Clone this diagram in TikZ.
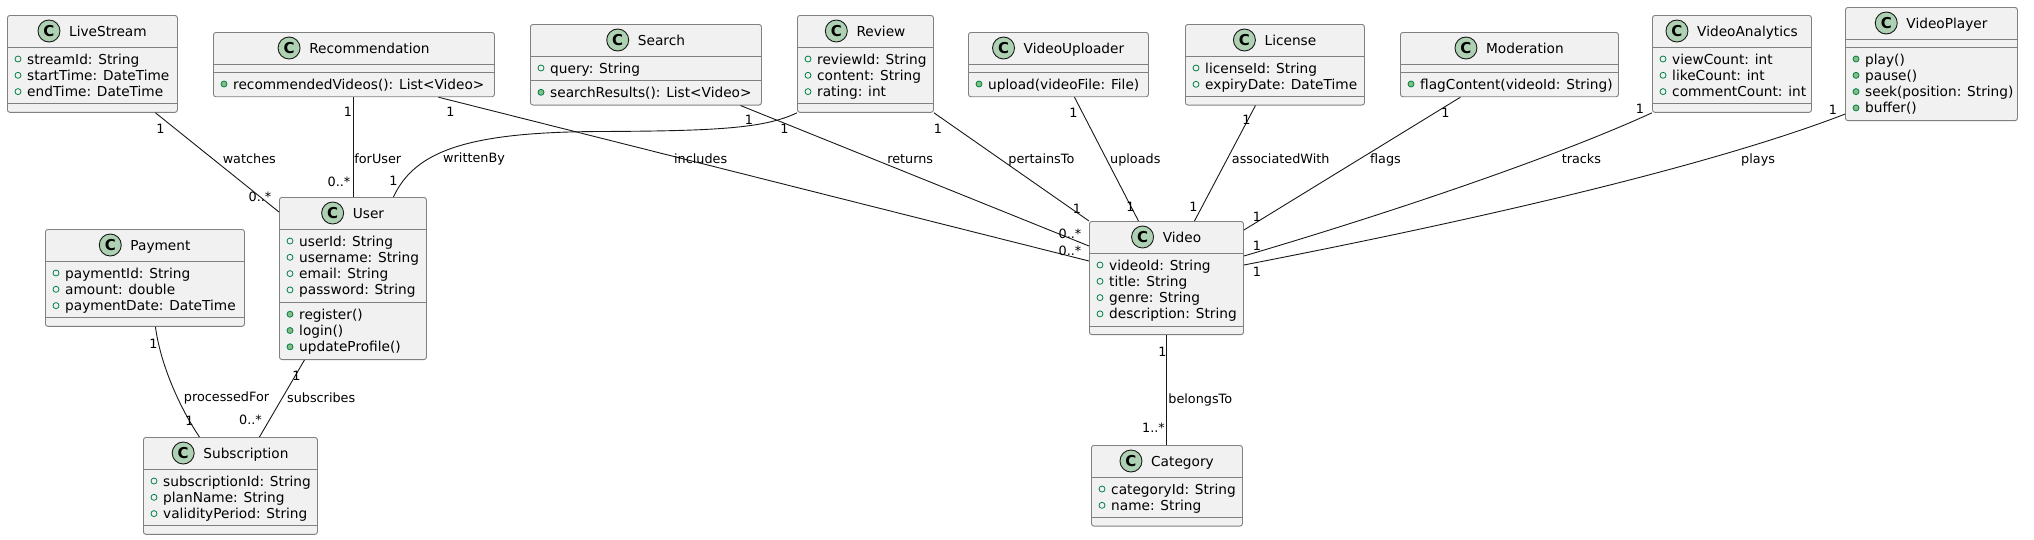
\documentclass[tikz,border=0pt]{standalone}
\usepackage{fontspec}
\setmainfont{DejaVu Sans}
\usepackage{xcolor}
\usepackage{tikz}
\usetikzlibrary{calc}

\definecolor{boxfill}{HTML}{F1F1F1}
\definecolor{boxline}{HTML}{181818}
\definecolor{iconfill}{HTML}{ADD1B2}
\definecolor{visline}{HTML}{038048}
\definecolor{visfill}{HTML}{84BE84}

% lớp UML: tên, x, y (góc trên trái), rộng, số thuộc tính, thuộc tính, số phương thức, phương thức
\newcommand{\umlclass}[8]{%
    \pgfmathsetmacro\hA{16.3*#5+8}%
    \pgfmathsetmacro\hM{16.3*#7+8}%
    \pgfmathsetmacro\hT{32+\hA+\hM}%
    \node[classbox, minimum width=#4, minimum height=\hT, anchor=north west] (#1) at (#2,#3) {};
    \draw[classline] ([yshift=-32]#1.north west) -- ([yshift=-32]#1.north east);
    \draw[classline] ([yshift=-32-\hA]#1.north west) -- ([yshift=-32-\hA]#1.north east);
    \node[classname, anchor=base] (#1-t) at ([xshift=15.5, yshift=-21]#1.north) {#1};
    \node[classicon] (#1-c) at ([xshift=-20, yshift=5]#1-t.base west) {C};
    \ifnum#5>0
    \foreach \m [count=\i] in {#6} {
        \pgfmathsetmacro\yy{44+16.3*(\i-1)}
        \draw[attrdot] ([xshift=11, yshift=-\yy]#1.north west) circle (3pt);
        \node[member] (#1-a\i) at ([xshift=20, yshift=-\yy-5]#1.north west) {\m};
    }
    \fi
    \ifnum#7>0
    \foreach \m [count=\i] in {#8} {
        \pgfmathsetmacro\yy{44+\hA+16.3*(\i-1)}
        \draw[opdot] ([xshift=11, yshift=-\yy]#1.north west) circle (3pt);
        \node[member] (#1-m\i) at ([xshift=20, yshift=-\yy-5]#1.north west) {\m};
    }
    \fi
}

\begin{document}
\begin{tikzpicture}[x=1pt, y=-1pt,
    classbox/.style={draw=black!50, line width=0.9pt, fill=boxfill, rounded corners=2.5pt, inner sep=0pt},
    classline/.style={draw=black!50, line width=0.9pt},
    classname/.style={font=\fontsize{13.7}{16}\selectfont, inner sep=0pt},
    classicon/.style={circle, draw=boxline, fill=iconfill, line width=0.9pt, minimum size=22pt, inner sep=0pt, font=\fontsize{15}{15}\selectfont\bfseries},
    member/.style={font=\fontsize{13.7}{16}\selectfont, inner sep=0pt, anchor=base west},
    attrdot/.style={draw=visline, line width=0.8pt},
    opdot/.style={draw=visline, fill=visfill, line width=0.8pt},
    assoc/.style={draw=boxline, line width=0.9pt},
    lbl/.style={font=\fontsize{12.8}{15}\selectfont, inner sep=0pt, text height=9.5pt, text depth=0pt}]
    \useasboundingbox (0,0) rectangle (2034,539);

    % 1. Hàng trên
    \umlclass{LiveStream}{7}{15}{170}{3}{streamId: String, startTime: DateTime, endTime: DateTime}{0}{}
    \umlclass{Recommendation}{213}{32}{281}{0}{}{1}{recommendedVideos(): List<Video>}
    \umlclass{Search}{530}{24}{231}{1}{query: String}{1}{searchResults(): List<Video>}
    \umlclass{Review}{797}{15}{136}{3}{reviewId: String, content: String, rating: int}{0}{}
    \umlclass{VideoUploader}{968}{32}{180}{0}{}{1}{upload(videoFile: File)}
    \umlclass{License}{1185}{24}{179}{2}{licenseId: String, expiryDate: DateTime}{0}{}
    \umlclass{Moderation}{1400}{32}{218}{0}{}{1}{flagContent(videoId: String)}
    \umlclass{VideoAnalytics}{1652}{15}{159}{3}{viewCount: int, likeCount: int, commentCount: int}{0}{}
    \umlclass{VideoPlayer}{1845}{7}{172}{0}{}{4}{play(), pause(), seek(position: String), buffer()}

    % 2. Hàng dưới
    \umlclass{User}{279}{197}{147}{4}{userId: String, username: String, email: String, password: String}{3}{register(), login(), updateProfile()}
    \umlclass{Payment}{45}{229}{199}{3}{paymentId: String, amount: double, paymentDate: DateTime}{0}{}
    \umlclass{Subscription}{143}{437}{174}{3}{subscriptionId: String, planName: String, validityPeriod: String}{0}{}
    \umlclass{Video}{1089}{221}{154}{4}{videoId: String, title: String, genre: String, description: String}{0}{}
    \umlclass{Category}{1091}{445}{151}{2}{categoryId: String, name: String}{0}{}

    % 3. Liên kết
    \draw[assoc] ([xshift=63]LiveStream.south) -- ([yshift=-15]User.north west)
        node[lbl, pos=0, xshift=5, yshift=-16] {1}
        node[lbl, pos=1, xshift=-19, yshift=15] {0..*}
        node[lbl, pos=0.46, xshift=37] {watches};
    \draw[assoc] (Recommendation.south -| User.north) -- (User.north)
        node[lbl, pos=0, xshift=-5, yshift=-15] {1}
        node[lbl, pos=1, xshift=-14, yshift=15.5] {0..*}
        node[lbl, pos=0.62, anchor=west, xshift=1] {forUser};
    \draw[assoc] ([xshift=84.5]Recommendation.south) -- ([yshift=-40]Video.north west)
        node[lbl, pos=0, xshift=12, yshift=-15] {1}
        node[lbl, pos=1, xshift=-19, yshift=10] {0..*}
        node[lbl, pos=0.40, xshift=2, yshift=3.5] {includes};
    \draw[assoc] ([xshift=94.5]Search.south) -- ([yshift=-25]Video.north west)
        node[lbl, pos=0, xshift=44, yshift=-23.5] {1}
        node[lbl, pos=1, xshift=-19, yshift=12] {0..*}
        node[lbl, pos=0.487, yshift=15.5] {returns};
    \draw[assoc] (Review.south west) .. controls (765,128) and (720,131) .. (600,131.5)
        node[lbl, pos=0, xshift=-48, yshift=-7] {1}
        .. controls (470,132) and (415,150) .. ([xshift=40.5]User.north)
        node[lbl, pos=1, yshift=16] {1}
        node[lbl, pos=0.5, xshift=18, yshift=-11] {writtenBy};
    \draw[assoc] (Review.south east) -- (Video.north west)
        node[lbl, pos=0, xshift=4, yshift=-16] {1}
        node[lbl, pos=1, xshift=-12, yshift=12] {1}
        node[lbl, pos=0.422, xshift=42] {pertainsTo};
    \draw[assoc] ([xshift=16]VideoUploader.south) -- ([xshift=-28]Video.north)
        node[lbl, pos=0, xshift=-1, yshift=-16] {1}
        node[lbl, pos=1, xshift=-8, yshift=14] {1}
        node[lbl, pos=0.496, anchor=west, xshift=3.5] {uploads};
    \draw[assoc] ([xshift=-19.5]License.south) -- ([xshift=28]Video.north)
        node[lbl, pos=0, xshift=-9, yshift=-14.5] {1}
        node[lbl, pos=1, xshift=-1, yshift=14] {1}
        node[lbl, pos=0.459, anchor=west, xshift=4] {associatedWith};
    \draw[assoc] ([xshift=-49]Moderation.south) -- ([yshift=-9]Video.north east)
        node[lbl, pos=0, xshift=-15, yshift=-16] {1}
        node[lbl, pos=1, xshift=13, yshift=13] {1}
        node[lbl, pos=0.463, anchor=west, xshift=9.5] {flags};
    \draw[assoc] (VideoAnalytics.south west) .. controls (1560,155) and (1400,210) .. ([yshift=-35]Video.north east)
        node[lbl, pos=0, xshift=-12, yshift=4] {1}
        node[lbl, pos=1, xshift=13, yshift=10] {1}
        node[lbl, pos=0.25, xshift=10, yshift=-12] {tracks};
    \draw[assoc] ([yshift=7]VideoPlayer.south west) .. controls (1700,170) and (1450,225) .. ([yshift=-44]Video.north east)
        node[lbl, pos=0, xshift=-12, yshift=4] {1}
        node[lbl, pos=1, xshift=13, yshift=-7] {1}
        node[lbl, pos=0.2, xshift=11.5, yshift=-11] {plays};
    \draw[assoc] (Video.south) -- (Video.south |- Category.north)
        node[lbl, pos=0, xshift=-4, yshift=-17] {1}
        node[lbl, pos=1, xshift=-13, yshift=17] {1..*}
        node[lbl, pos=0.577, anchor=west, xshift=1.5] {belongsTo};
    \draw[assoc] ([xshift=10.5]Payment.south) .. controls (160,362) and (178,405) .. ([xshift=-31]Subscription.north)
        node[lbl, pos=0, xshift=-2, yshift=-17] {1}
        node[lbl, pos=1, xshift=-10, yshift=16] {1}
        node[lbl, pos=1, anchor=west, xshift=-16, yshift=40] {processedFor};
    \draw[assoc] ([xshift=-48.5]User.south) -- ([xshift=29]Subscription.north)
        node[lbl, pos=0, xshift=-8, yshift=-15.5] {1}
        node[lbl, pos=1, xshift=-9, yshift=17] {0..*}
        node[lbl, pos=0.484, anchor=west, xshift=4] {subscribes};
\end{tikzpicture}
\end{document}
